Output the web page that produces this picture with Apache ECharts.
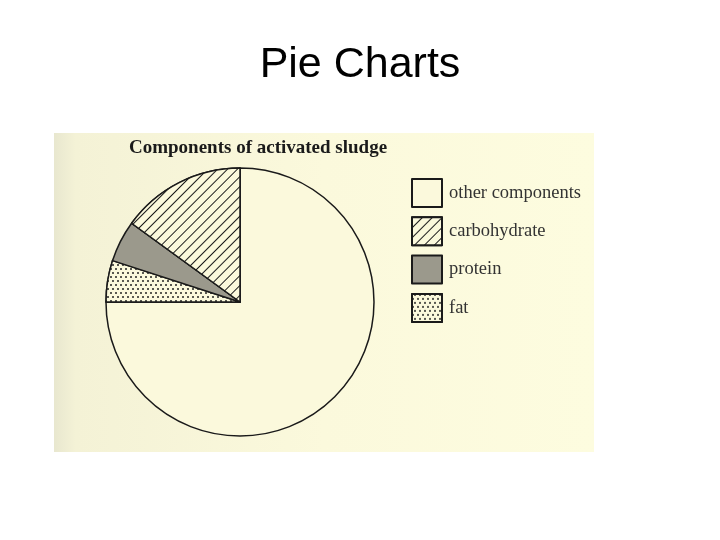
<!DOCTYPE html>
<html>
<head>
<meta charset="utf-8">
<script src="https://cdn.jsdelivr.net/npm/echarts@6/dist/echarts.min.js"></script>
<style>
html,body{margin:0;padding:0;background:#fff;}
#myChart{width:720px;height:540px;}
</style>
</head>
<body>
<div id="myChart"></div>
<script>
// slices, clockwise from 12 o'clock
const categories = ['other components', 'fat', 'protein', 'carbohydrate'];
const shares = [75, 5, 5, 15];
// legend order as printed
const legendOrder = ['other components', 'carbohydrate', 'protein', 'fat'];

const cream = '#fbf9dc';
const ink = '#1a1a1a';

// fill for each slice
function sliceStyle(name) {
	if (name == 'carbohydrate') {
		return {
			color: cream,
			decal: {
				symbol: 'rect',
				color: ink,
				backgroundColor: cream,
				dashArrayX: [[1, 0]],
				dashArrayY: [1, 6],
				rotation: -Math.PI / 4
			}
		};
	}
	if (name == 'fat') {
		return {
			color: cream,
			decal: {
				symbol: 'circle',
				symbolSize: 1,
				color: '#222',
				backgroundColor: cream,
				dashArrayX: [[1.6, 2.4], [0, 2, 1.6, 0.4]],
				dashArrayY: [1.6, 2]
			}
		};
	}
	if (name == 'protein') return { color: '#9b998c' };
	return { color: cream };
}

let pieData = [];
for (let i = 0; i < categories.length; i++) {
	pieData.push({ name: categories[i], value: shares[i], itemStyle: sliceStyle(categories[i]) });
}

let myChart = echarts.init(document.getElementById('myChart'));
let option = {
	backgroundColor: '#ffffff',
	animation: false,
	graphic: [{
		type: 'rect',
		z: -10,
		shape: { x: 54, y: 133, width: 540, height: 319 },
		style: {
			fill: {
				type: 'linear', x: 0, y: 0, x2: 1, y2: 0,
				colorStops: [
					{ offset: 0, color: '#e8e7cf' },
					{ offset: 0.04, color: '#f4f2d6' },
					{ offset: 0.5, color: '#fbf9dc' },
					{ offset: 1, color: '#fdfcdf' }
				]
			}
		}
	}],
	title: [{
		text: 'Pie Charts',
		left: 'center',
		top: 39,
		textStyle: { fontFamily: 'Liberation Sans, Arial', fontSize: 43, fontWeight: 'normal', color: '#000' }
	}, {
		text: 'Components of activated sludge',
		left: 129,
		top: 139,
		padding: 0,
		textStyle: { fontFamily: 'Liberation Serif, serif', fontSize: 19, fontWeight: 'bold', color: ink }
	}],
	legend: {
		data: legendOrder,
		orient: 'vertical',
		left: 411,
		top: 178,
		padding: 0,
		icon: 'rect',
		itemWidth: 30,
		itemHeight: 28,
		itemGap: 8.3,
		selectedMode: false,
		textStyle: { fontFamily: 'Liberation Serif, serif', fontSize: 18.5, color: '#333', padding: [0, 0, 0, 2] }
	},
	series: [{
		type: 'pie',
		center: [240, 302],
		radius: 134,
		startAngle: 90,
		clockwise: true,
		label: { show: false },
		labelLine: { show: false },
		emphasis: { disabled: true },
		itemStyle: { borderColor: ink, borderWidth: 1.5 },
		data: pieData
	}]
};
myChart.setOption(option);
</script>
</body>
</html>
